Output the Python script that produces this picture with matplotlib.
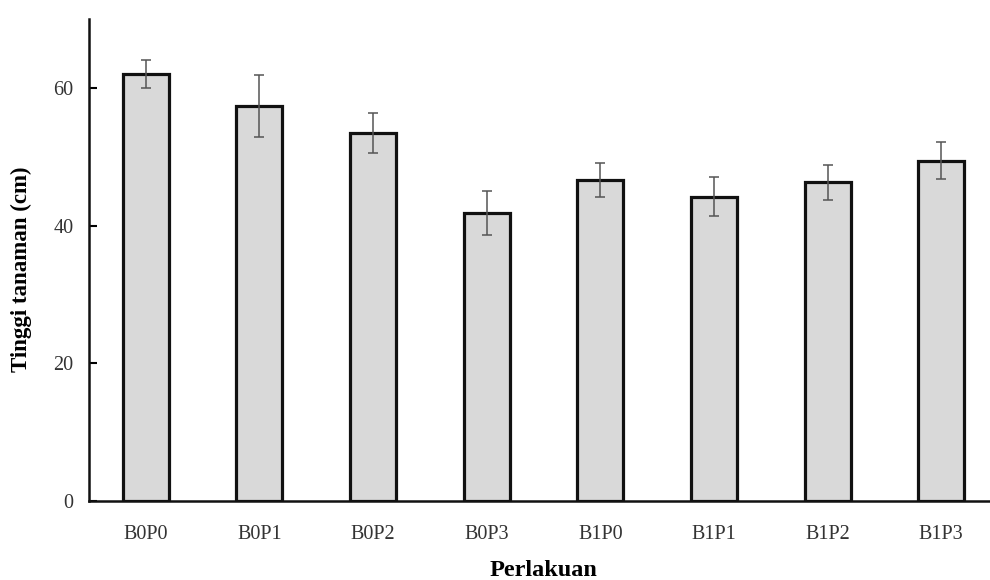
import matplotlib
matplotlib.use("Agg")
import matplotlib.pyplot as plt
import numpy as np

categories = ["B0P0", "B0P1", "B0P2", "B0P3", "B1P0", "B1P1", "B1P2", "B1P3"]
heights = [62.0, 57.3, 53.4, 41.8, 46.6, 44.2, 46.3, 49.4]
errors = [2.05, 4.5, 2.9, 3.2, 2.5, 2.8, 2.55, 2.7]
yticks = [0, 20, 40, 60]

plt.rcParams['font.family'] = ['Liberation Serif', 'DejaVu Serif']

fig = plt.figure(figsize=(9.9, 5.8), dpi=100)
W, H = 990, 580
left, right, bottom, top = 89, 998, 501, 19
ax = fig.add_axes([left / W, 1 - bottom / H, (right - left) / W, (bottom - top) / H])

x = np.arange(len(categories))
ax.bar(x, heights, width=0.405, color='#d9d9d9', edgecolor='#111111', linewidth=2.3, zorder=2)
ax.errorbar(x, heights, yerr=errors, fmt='none', ecolor='#555555', elinewidth=1.1,
            capsize=3.5, capthick=1.1, zorder=3)

ax.set_xlim(-0.5, len(categories) - 0.5)
ax.set_ylim(0, 70)
ax.set_yticks(yticks)
ax.set_xticks(x)
ax.set_xticklabels(categories)
ax.tick_params(axis='x', length=0, pad=17, labelsize=14.5, labelcolor='#333333')
ax.tick_params(axis='y', direction='in', length=6, width=1.5, pad=11, labelsize=14.5, labelcolor='#333333')

for s in ['top', 'right']:
    ax.spines[s].set_visible(False)
for s in ['left', 'bottom']:
    ax.spines[s].set_linewidth(1.8)
    ax.spines[s].set_color('#111111')

ax.set_ylabel("Tinggi tanaman (cm)", fontsize=16.5, fontweight='bold')
ax.yaxis.set_label_coords(-0.063, 0.48)
ax.set_xlabel("Perlakuan", fontsize=17.5, fontweight='bold', labelpad=12)

fig.savefig("out.png", dpi=100)
